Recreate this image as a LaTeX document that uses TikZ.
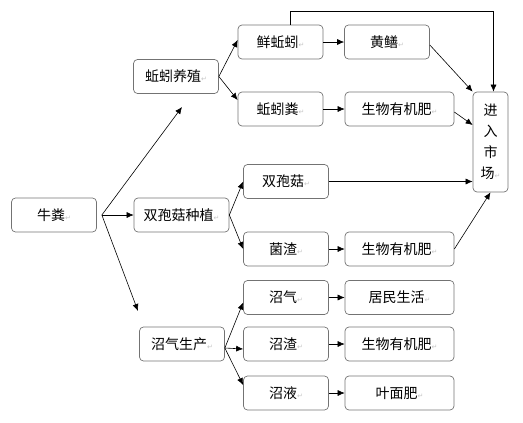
\documentclass[tikz,border=0pt]{standalone}
\usepackage{fontspec}
\setmainfont{Noto Sans CJK SC}
\newfontfamily\retfont{DejaVu Sans}
\usepackage{tikz}
\usetikzlibrary{arrows.meta,positioning}
% paragraph mark after each label
\newcommand\ret{{\retfont\color{gray!45}\fontsize{7}{8}\selectfont ↵}}

\begin{document}
\begin{tikzpicture}[x=1pt,y=-1pt,
    box/.style={draw=black!55,rounded corners=4pt,line width=0.7pt,
      minimum width=85pt,minimum height=34pt,inner sep=0pt,
      font=\fontsize{14}{21}\selectfont},
    wide/.style={box,minimum width=109pt},
    link/.style={-{Latex[length=7pt,width=6pt]},line width=0.6pt}]
  \useasboundingbox (0,0) rectangle (523,423);

  % left column
  \node[box] (niufen) at (54,215) {牛粪\ret};
  \node[box] (qiuyin) at (176,76.5) {蚯蚓养殖\ret};
  \node[box,minimum width=95pt] (shuangbao) at (181.5,215) {双孢菇种植\ret};
  \node[box] (zhaoqi) at (182,344) {沼气生产\ret};

  % products
  \node[box] (xianqy) at (280.5,42) {鲜蚯蚓\ret};
  \node[box] (huangshan) at (387,42) {黄鳝\ret};
  \node[box] (qyfen) at (280.5,109) {蚯蚓粪\ret};
  \node[wide] (feiA) at (399.5,109) {生物有机肥\ret};
  \node[box] (sbg) at (286,181.5) {双孢菇\ret};
  \node[box] (junzha) at (286,249) {菌渣\ret};
  \node[wide] (feiB) at (399.5,249) {生物有机肥\ret};
  \node[box] (zqi) at (286,297.5) {沼气\ret};
  \node[wide] (jumin) at (399.5,297.5) {居民生活\ret};
  \node[box] (zzha) at (286,344) {沼渣\ret};
  \node[wide] (feiC) at (399.5,344) {生物有机肥\ret};
  \node[box] (zye) at (286,393) {沼液\ret};
  \node[wide] (yemian) at (399.5,393) {叶面肥\ret};

  % market
  \node[box,minimum width=35pt,minimum height=100pt,align=center] (shichang)
    at (490.5,142) {进\\入\\市\\场\ret};

  % from manure
  \coordinate (fork) at ([xshift=5pt]niufen.east);
  \coordinate (toqy) at (182,107);
  \coordinate (tozq) at (138,311);
  \draw[link] (fork) -- (toqy);
  \draw[link] (fork) -- (shuangbao.west);
  \draw[link] (fork) -- (tozq);

  % branches
  \draw[link] (qiuyin.east) -- ([yshift=2pt]xianqy.west);
  \draw[link] (qiuyin.east) -- ([yshift=9pt]qyfen.west);
  \draw[link] (shuangbao.east) -- (sbg.west);
  \draw[link] (shuangbao.east) -- (junzha.west);
  \draw[link] ([yshift=-4pt]zhaoqi.east) -- ([yshift=-5pt]zqi.west);
  \draw[link] ([yshift=-4pt]zhaoqi.east) -- ([yshift=-5pt]zzha.west);
  \draw[link] ([yshift=-4pt]zhaoqi.east) -- ([yshift=8pt]zye.west);

  % rows
  \draw[link] (xianqy) -- (huangshan);
  \draw[link] (qyfen) -- (feiA);
  \draw[link] (junzha) -- (feiB);
  \draw[link] (zqi) -- (jumin);
  \draw[link] (zzha) -- (feiC);
  \draw[link] (zye) -- (yemian);

  % to market
  \coordinate (corner) at ([xshift=3pt,yshift=80pt]shichang.north);
  \draw[link] ([xshift=10pt]xianqy.north) |- (corner) -- ([xshift=3pt]shichang.north);
  \draw[link] ([yshift=-3pt]huangshan.east) -- (shichang.north west);
  \draw[link] ([yshift=-3pt]feiA.east) -- ([yshift=17pt]shichang.west);
  \draw[link] (sbg.east) -- (sbg.east -| shichang.west);
  \draw[link] (feiB.east) -- (shichang.south);
\end{tikzpicture}
\end{document}
